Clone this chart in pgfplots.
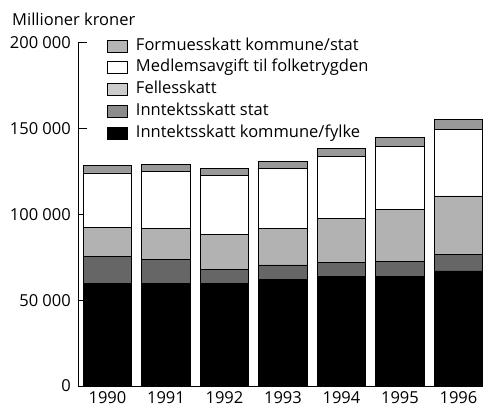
\documentclass[border=0pt]{standalone}
\usepackage{pgfplots}
\pgfplotsset{compat=1.18}
\usepackage{fontspec}
\setmainfont{Open Sans}
\definecolor{formue}{gray}{0.60}
\definecolor{felles}{gray}{0.70}
\definecolor{stat}{gray}{0.40}
\definecolor{formueL}{gray}{0.71}
\definecolor{fellesL}{gray}{0.80}
\definecolor{statL}{gray}{0.55}
\begin{document}
\fontsize{16.5bp}{20bp}\selectfont
\begin{tikzpicture}[x=1bp,y=1bp]
\useasboundingbox (0,0) rectangle (483,406);
\node[anchor=base west, inner sep=0pt] at (12,381) {Millioner kroner};
\begin{axis}[
  at={(78bp,20bp)}, anchor=south west,
  scale only axis, width=405bp, height=343.3bp,
  xmin=-0.504, xmax=6.42, ymin=0, ymax=200000,
  ybar stacked, bar width=0.826,
  axis x line*=bottom, axis y line*=left,
  axis line style={line width=0.8bp, black, -},
  ytick={0,50000,100000,150000,200000},
  yticklabels={0,50 000,100 000,150 000,200 000},
  xtick={0,1,2,3,4,5,6},
  xticklabels={1990,1991,1992,1993,1994,1995,1996},
  x tick style={draw=none},
  y tick style={line width=0.8bp, black},
  tick align=inside,
  major tick length=9bp,
  yticklabel style={inner xsep=0pt, xshift=-7bp},
  xticklabel style={inner ysep=0pt, yshift=-5bp},
  scaled y ticks=false,
  reverse legend,
  legend cell align=left,
  legend style={at={(0.0716,1.023)}, anchor=north west, draw=none, fill=none,
    inner sep=0pt, row sep=0pt, column sep=0pt,
    nodes={inner sep=0pt, text height=15bp, text depth=6.8bp}},
  mylegend/.style={legend image code/.code={\draw[draw=black, fill=#1, line width=0.8bp] (0bp,-6bp) rectangle (20bp,6bp);}},
  clip=true,
]
\addplot[fill=black, draw=black, line width=0.8bp, mylegend=black] coordinates {
 (0,59600) (1,59600) (2,59800) (3,62300) (4,63900) (5,63900) (6,67000)};
\addlegendentry{\hspace{8bp}Inntektsskatt kommune/fylke}
\addplot[fill=stat, draw=black, line width=0.8bp, mylegend=statL] coordinates {
 (0,16100) (1,14200) (2,8000) (3,8200) (4,8200) (5,8900) (6,9500)};
\addlegendentry{\hspace{8bp}Inntektsskatt stat}
\addplot[fill=felles, draw=black, line width=0.8bp, mylegend=fellesL] coordinates {
 (0,16500) (1,18100) (2,20600) (3,21400) (4,25600) (5,30100) (6,34200)};
\addlegendentry{\hspace{8bp}Fellesskatt}
\addplot[fill=white, draw=black, line width=0.8bp, mylegend=white] coordinates {
 (0,31900) (1,32900) (2,34300) (3,34900) (4,35900) (5,36700) (6,39000)};
\addlegendentry{\hspace{8bp}Medlemsavgift til folketrygden}
\addplot[fill=formue, draw=black, line width=0.8bp, mylegend=formueL] coordinates {
 (0,4500) (1,4400) (2,3900) (3,4100) (4,4600) (5,5300) (6,5400)};
\addlegendentry{\hspace{8bp}Formuesskatt kommune/stat}
\end{axis}
\end{tikzpicture}
\end{document}
